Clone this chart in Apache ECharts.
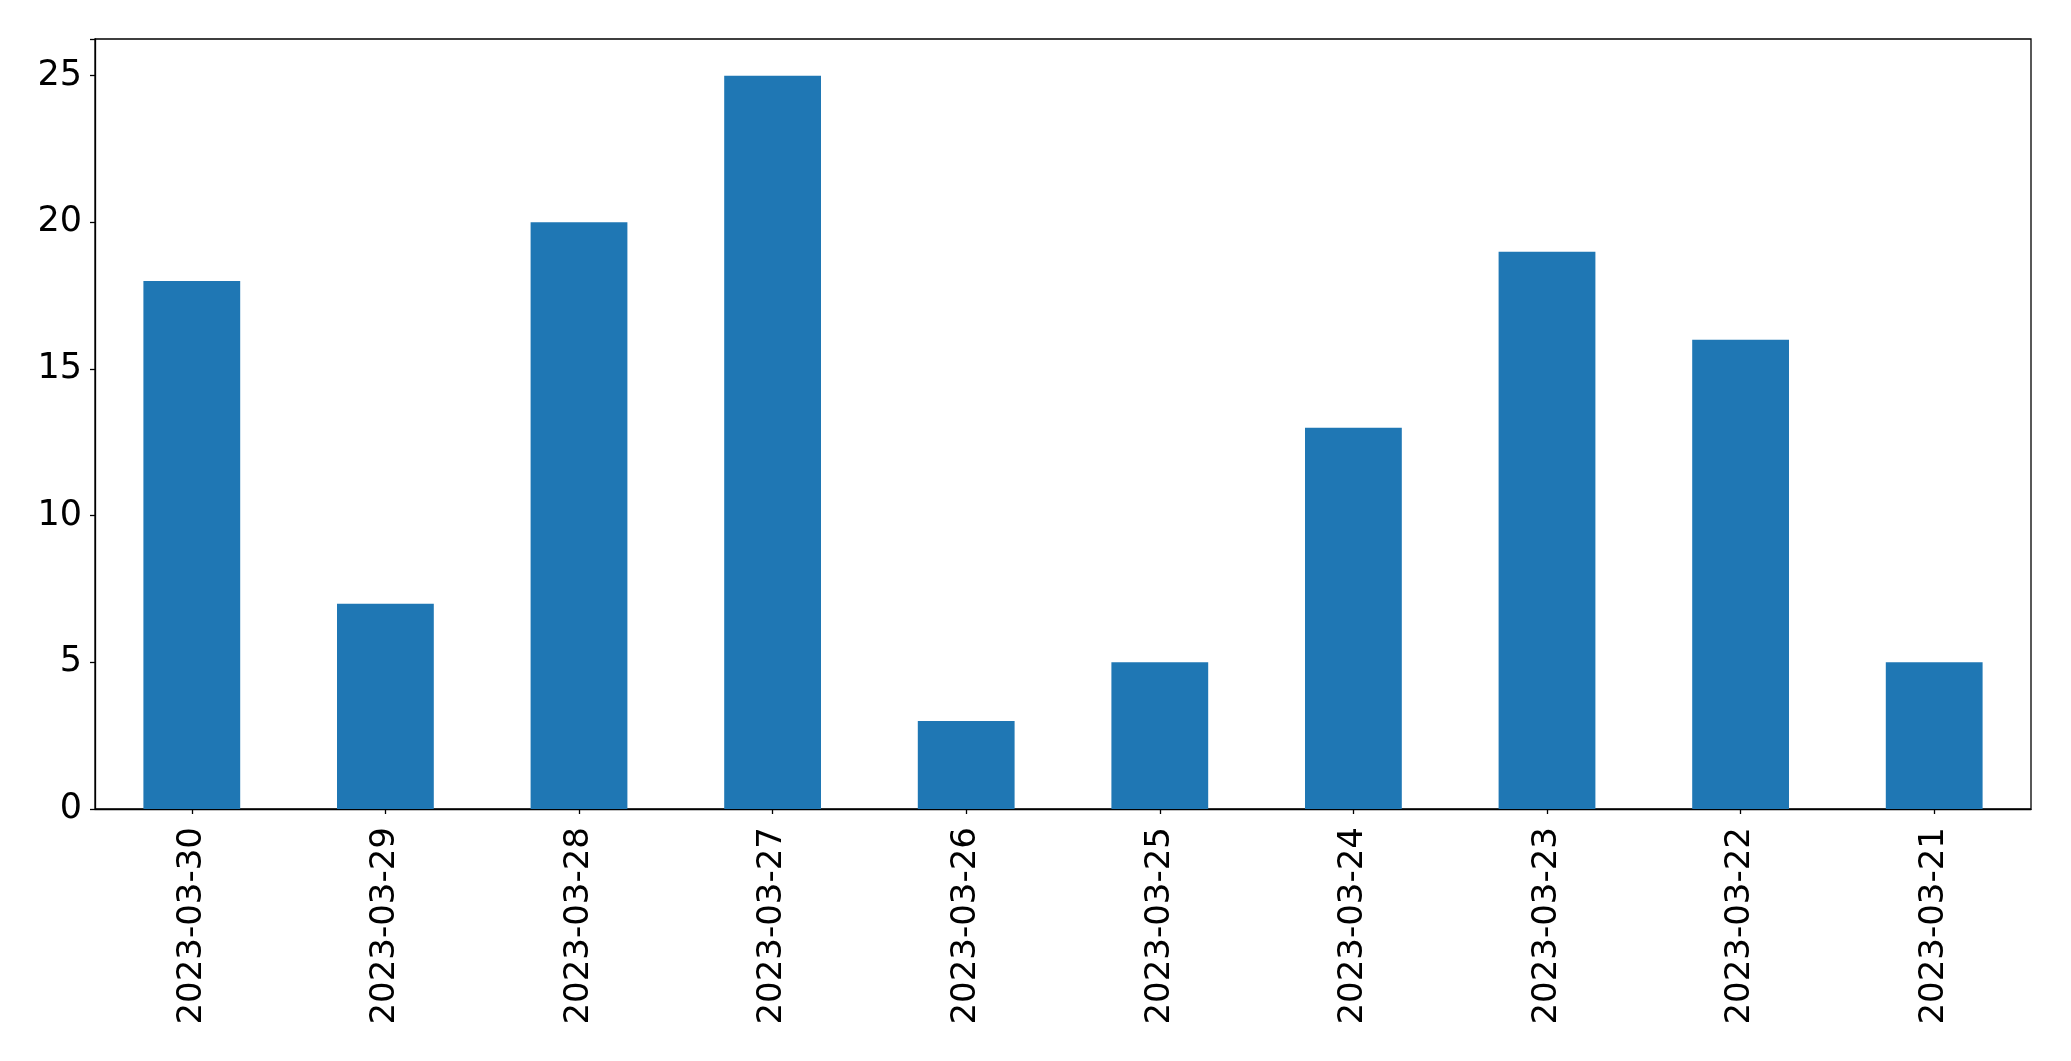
<!DOCTYPE html>
<html>
<head>
<meta charset="utf-8">
<script src="https://cdn.jsdelivr.net/npm/echarts@6/dist/echarts.min.js"></script>
<style>
html,body{margin:0;padding:0;background:#fff;}
#chart{width:2071px;height:1061px;}
</style>
</head>
<body>
<div id="chart"></div>
<script>
const categories = ['2023-03-30','2023-03-29','2023-03-28','2023-03-27','2023-03-26','2023-03-25','2023-03-24','2023-03-23','2023-03-22','2023-03-21'];
const values = [18, 7, 20, 25, 3, 5, 13, 19, 16, 5];
const yTicks = [0, 5, 10, 15, 20, 25];

const chart = echarts.init(document.getElementById('chart'), null, {renderer: 'canvas'});
const font = 'DejaVu Sans';
chart.setOption({
  animation: false,
  backgroundColor: '#ffffff',
  grid: {left: 95, top: 39, width: 1936, height: 770, show: true, borderColor: '#000', borderWidth: 1.3, backgroundColor: 'transparent'},
  xAxis: {
    type: 'category',
    data: categories,
    boundaryGap: true,
    axisLine: {show: true, lineStyle: {color: '#000', width: 1.3}},
    axisTick: {show: true, alignWithLabel: true, length: 5, lineStyle: {color: '#000', width: 1.3}},
    axisLabel: {rotate: 90, margin: 18, fontSize: 34, fontFamily: font, color: '#000', interval: 0},
    splitLine: {show: false}
  },
  yAxis: {
    type: 'value',
    min: 0,
    max: 26.25,
    interval: 5,
    axisLine: {show: true, lineStyle: {color: '#000', width: 1.3}},
    axisTick: {show: true, length: 5, lineStyle: {color: '#000', width: 1.3}},
    axisLabel: {margin: 13, fontSize: 35, fontFamily: font, color: '#000',
      formatter: function(v){ return yTicks.indexOf(v) >= 0 ? String(v) : ''; }},
    splitLine: {show: false}
  },
  series: [{
    type: 'bar',
    data: values,
    barWidth: '50%',
    itemStyle: {color: '#1f77b4'}
  }]
});
</script>
</body>
</html>
